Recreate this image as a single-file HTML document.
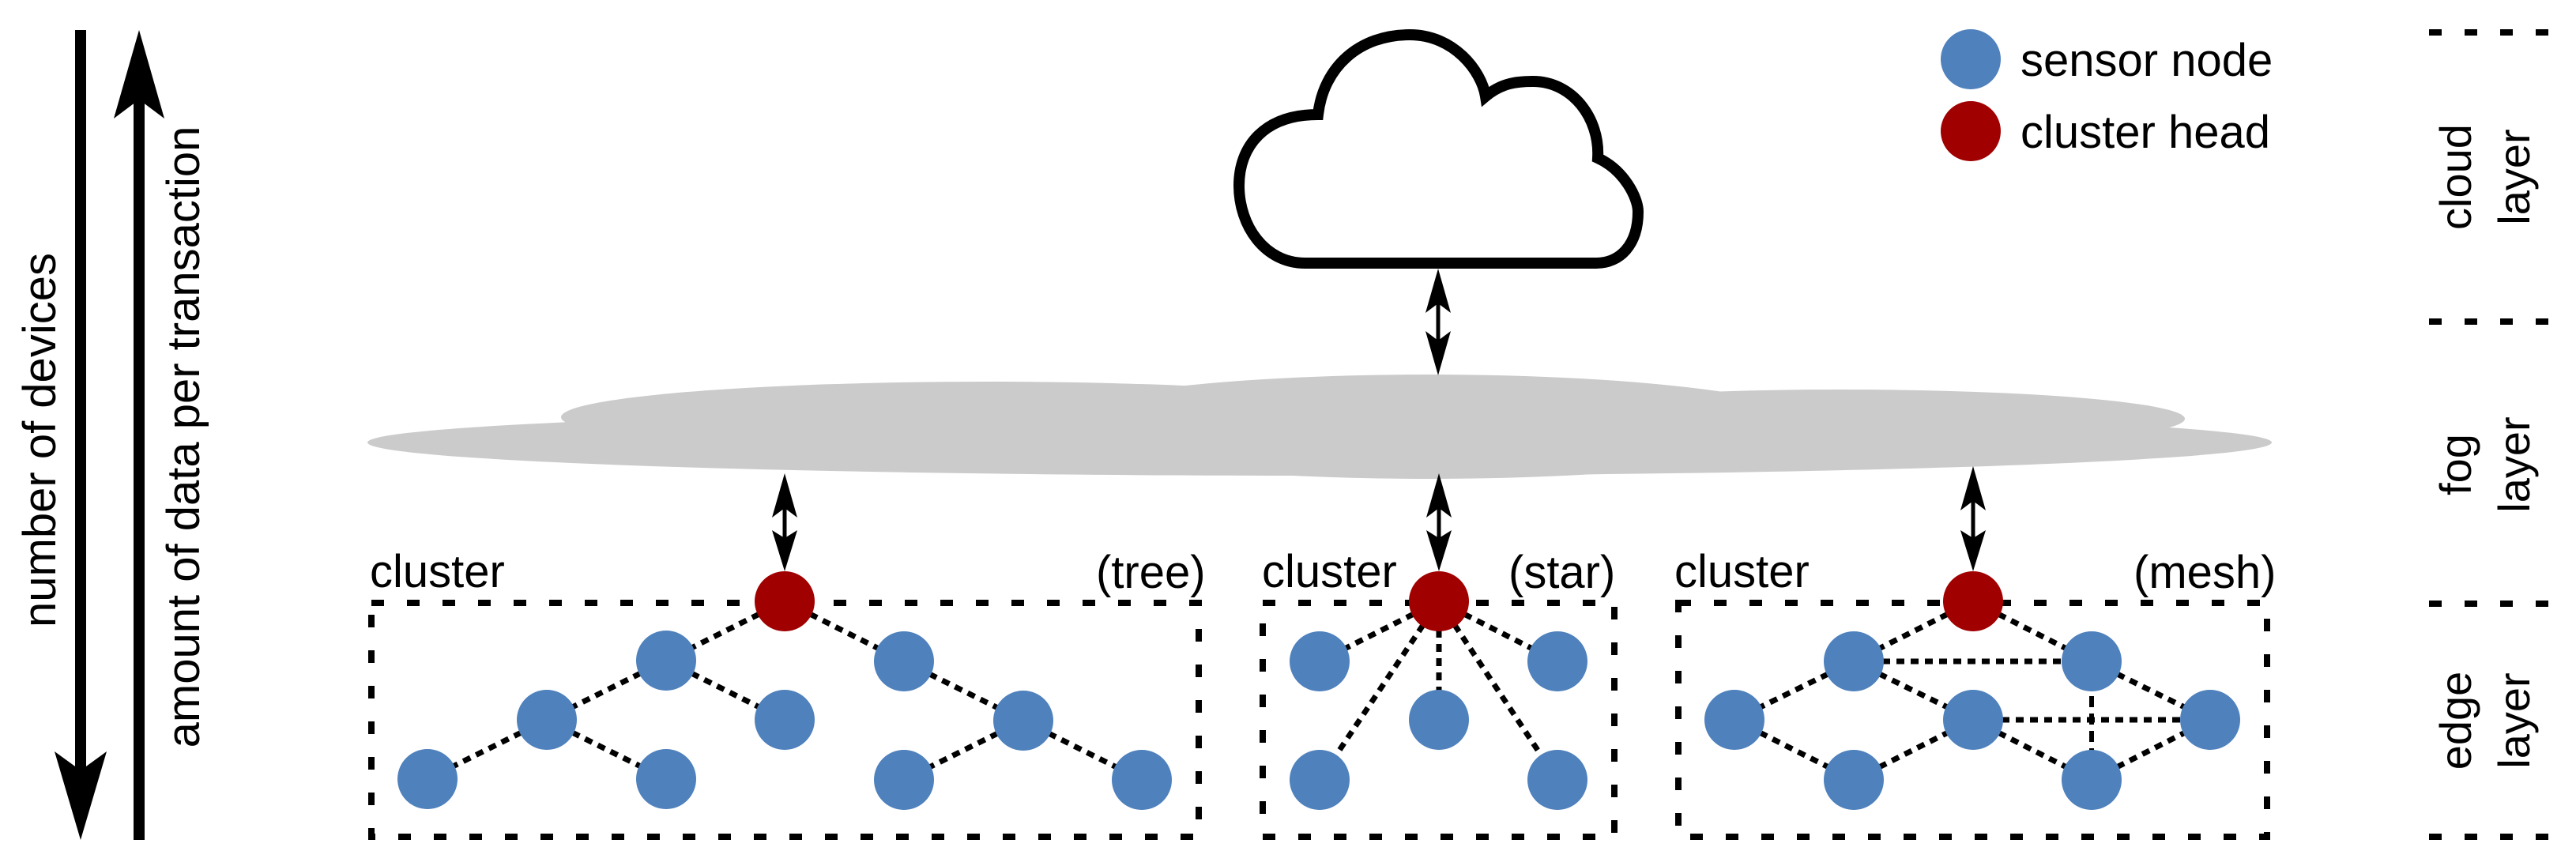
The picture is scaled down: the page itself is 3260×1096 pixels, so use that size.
<!DOCTYPE html>
<html><head><meta charset="utf-8"><style>
html,body{margin:0;padding:0;background:#fff;}
svg{display:block;}
text{font-family:"Liberation Sans",Arial,sans-serif;fill:#000;}
</style></head><body>
<svg width="3260" height="1096" viewBox="0 0 3260 1096" xmlns="http://www.w3.org/2000/svg">
<!-- left arrows -->
<line x1="102" y1="38" x2="102" y2="975" stroke="#000" stroke-width="14"/>
<polygon points="69,951 102,1063 135,951 102,975" fill="#000"/>
<line x1="176" y1="126" x2="176" y2="1063" stroke="#000" stroke-width="14"/>
<polygon points="144,150 176,38 208,150 176,126" fill="#000"/>
<text font-size="58" text-anchor="middle" transform="translate(70,557) rotate(-90)">number of devices</text>
<text font-size="58" text-anchor="middle" transform="translate(252,553) rotate(-90)">amount of data per transaction</text>

<!-- fog -->
<g fill="#cbcbcb">
<ellipse cx="1670" cy="560" rx="1205" ry="42"/>
<ellipse cx="1250" cy="528" rx="540" ry="45"/>
<ellipse cx="1808" cy="540" rx="500" ry="66"/>
<ellipse cx="2330" cy="530" rx="435" ry="37"/>
</g>

<!-- cloud -->
<path d="M1652 333 C1600 333 1568 285 1568 235 C1568 185 1600 145 1668 145 C1675 85 1720 44 1784 44 C1840 44 1875 90 1880 122 C1900 105 1920 103 1940 103 C1990 103 2025 150 2022 200 C2055 215 2073 250 2073 268 C2073 310 2050 333 2020 333 Z" fill="#fff" stroke="#000" stroke-width="14" stroke-linejoin="miter"/>

<!-- double arrows -->
<g fill="#000" stroke="none">
<line x1="1820" y1="380" x2="1820" y2="435" stroke="#000" stroke-width="5"/>
<polygon points="1820,340 1836,396 1820,384 1804,396"/>
<polygon points="1820,475 1836,419 1820,431 1804,419"/>
<line x1="993" y1="640" x2="993" y2="683" stroke="#000" stroke-width="5"/>
<polygon points="993,599 1009,655 993,643 977,655"/>
<polygon points="993,723 1009,671 993,681 977,671"/>
<line x1="1821" y1="640" x2="1821" y2="683" stroke="#000" stroke-width="5"/>
<polygon points="1821,599 1837,655 1821,643 1805,655"/>
<polygon points="1821,723 1837,671 1821,681 1805,671"/>
<line x1="2497" y1="632" x2="2497" y2="683" stroke="#000" stroke-width="5"/>
<polygon points="2497,590 2513,646 2497,634 2481,646"/>
<polygon points="2497,723 2513,671 2497,681 2481,671"/>
</g>

<!-- boxes -->
<g fill="none" stroke="#000" stroke-width="8" stroke-dasharray="16 29">
<rect x="470" y="763" width="1047" height="296"/>
<rect x="1598" y="763" width="445" height="296"/>
<rect x="2124" y="763" width="745" height="296"/>
<line x1="3074" y1="41" x2="3226" y2="41"/>
<line x1="3074" y1="407" x2="3226" y2="407"/>
<line x1="3074" y1="764" x2="3226" y2="764"/>
<line x1="3074" y1="1059" x2="3226" y2="1059"/>
</g>

<!-- labels -->
<g font-size="58">
<text x="468" y="743">cluster</text>
<text x="1387" y="744">(tree)</text>
<text x="1597" y="743">cluster</text>
<text x="1909" y="744">(star)</text>
<text x="2119" y="743">cluster</text>
<text x="2700" y="744">(mesh)</text>
<text x="2557" y="96">sensor node</text>
<text x="2557" y="187">cluster head</text>
</g>
<g font-size="56" text-anchor="middle">
<text transform="translate(3127,224) rotate(-90)">cloud</text>
<text transform="translate(3201,224) rotate(-90)">layer</text>
<text transform="translate(3127,588) rotate(-90)">fog</text>
<text transform="translate(3201,588) rotate(-90)">layer</text>
<text transform="translate(3127,912) rotate(-90)">edge</text>
<text transform="translate(3201,912) rotate(-90)">layer</text>
</g>

<!-- edges -->
<g stroke="#000" stroke-width="7" stroke-dasharray="10 8" fill="none">
<!-- tree -->
<line x1="993" y1="761" x2="843" y2="836"/>
<line x1="993" y1="761" x2="1144" y2="837"/>
<line x1="843" y1="836" x2="692" y2="911"/>
<line x1="843" y1="836" x2="993" y2="911"/>
<line x1="692" y1="911" x2="541" y2="986"/>
<line x1="692" y1="911" x2="843" y2="986"/>
<line x1="1144" y1="837" x2="1295" y2="912"/>
<line x1="1295" y1="912" x2="1144" y2="987"/>
<line x1="1295" y1="912" x2="1445" y2="987"/>
<!-- star -->
<line x1="1821" y1="761" x2="1670" y2="837"/>
<line x1="1821" y1="761" x2="1971" y2="837"/>
<line x1="1821" y1="761" x2="1821" y2="911"/>
<line x1="1821" y1="761" x2="1670" y2="987"/>
<line x1="1821" y1="761" x2="1971" y2="987"/>
<!-- mesh -->
<line x1="2497" y1="761" x2="2346" y2="837"/>
<line x1="2497" y1="761" x2="2647" y2="837"/>
<line x1="2346" y1="837" x2="2647" y2="837"/>
<line x1="2346" y1="837" x2="2195" y2="911"/>
<line x1="2346" y1="837" x2="2497" y2="911"/>
<line x1="2647" y1="837" x2="2797" y2="911"/>
<line x1="2497" y1="911" x2="2797" y2="911"/>
<line x1="2195" y1="911" x2="2346" y2="987"/>
<line x1="2346" y1="987" x2="2497" y2="911"/>
<line x1="2497" y1="911" x2="2647" y2="987"/>
<line x1="2647" y1="987" x2="2797" y2="911"/>
<line x1="2647" y1="837" x2="2647" y2="987" stroke-dasharray="14 8" stroke-width="6"/>
</g>

<!-- nodes -->
<g fill="#4f81bd">
<circle cx="2494" cy="75" r="38"/>
<circle cx="843" cy="836" r="38"/>
<circle cx="1144" cy="837" r="38"/>
<circle cx="692" cy="911" r="38"/>
<circle cx="993" cy="911" r="38"/>
<circle cx="1295" cy="912" r="38"/>
<circle cx="541" cy="986" r="38"/>
<circle cx="843" cy="986" r="38"/>
<circle cx="1144" cy="987" r="38"/>
<circle cx="1445" cy="987" r="38"/>
<circle cx="1670" cy="837" r="38"/>
<circle cx="1971" cy="837" r="38"/>
<circle cx="1821" cy="911" r="38"/>
<circle cx="1670" cy="987" r="38"/>
<circle cx="1971" cy="987" r="38"/>
<circle cx="2346" cy="837" r="38"/>
<circle cx="2647" cy="837" r="38"/>
<circle cx="2195" cy="911" r="38"/>
<circle cx="2497" cy="911" r="38"/>
<circle cx="2797" cy="911" r="38"/>
<circle cx="2346" cy="987" r="38"/>
<circle cx="2647" cy="987" r="38"/>
</g>
<g fill="#a00000">
<circle cx="2494" cy="166" r="38"/>
<circle cx="993" cy="761" r="38"/>
<circle cx="1821" cy="761" r="38"/>
<circle cx="2497" cy="761" r="38"/>
</g>
</svg>
</body></html>
